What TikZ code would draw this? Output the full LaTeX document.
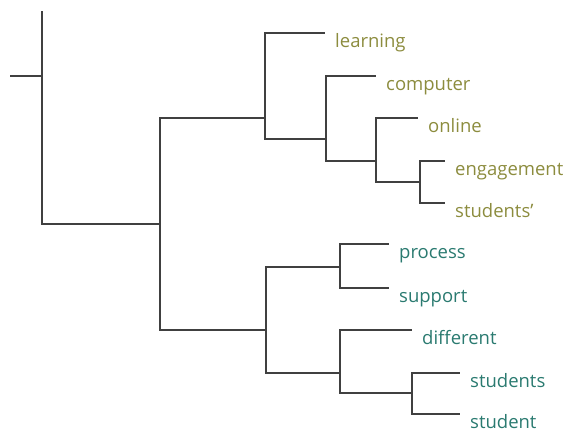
\documentclass[tikz,border=0pt]{standalone}
\usepackage{fontspec}
\setmainfont{Open Sans}
\usepackage{xcolor}
\usetikzlibrary{positioning}
\definecolor{olive}{RGB}{140,140,62}
\definecolor{teal}{RGB}{42,122,112}
\definecolor{twig}{RGB}{64,64,64}

\begin{document}
\begin{tikzpicture}[x=1pt,y=-1pt,
	elbow/.style={to path={|- (\tikztotarget)}},
	wordA/.style={anchor=base west,inner sep=0pt,xshift=10pt,yshift=-14.5pt,text=olive,font=\fontsize{18.5}{20}\selectfont},
	wordB/.style={wordA,text=teal}]
	\useasboundingbox (0,0) rectangle (571,447);
	% junctions
	\coordinate (S) at (10,76);
	\coordinate (T) at (42,11);
	\coordinate (R) at (42,76);
	\coordinate (A) at (160,224);
	\coordinate (B) at (265,118);
	\coordinate (D) at (326,139);
	\coordinate (E) at (376,161);
	\coordinate (F) at (420,182);
	\coordinate (C) at (266,330);
	\coordinate (G) at (340,267);
	\coordinate (H) at (340,373);
	\coordinate (I) at (412,393);
	% leaves
	\coordinate (l1) at (325,33);
	\coordinate (l2) at (376,76);
	\coordinate (l3) at (418,118);
	\coordinate (l4) at (445,161);
	\coordinate (l5) at (445,203);
	\coordinate (l6) at (389,244);
	\coordinate (l7) at (389,288);
	\coordinate (l8) at (412,330);
	\coordinate (l9) at (460,373);
	\coordinate (l10) at (460,414);
	%
	\node[wordA] (learning) at (l1) {learning};
	\node[wordA] (computer) at (l2) {computer};
	\node[wordA] (online) at (l3) {online};
	\node[wordA] (engagement) at (l4) {engagement};
	\node[wordA] (students') at (l5) {students’};
	\node[wordB] (process) at (l6) {process};
	\node[wordB] (support) at (l7) {support};
	\node[wordB] (different) at (l8) {different};
	\node[wordB] (students) at (l9) {students};
	\node[wordB] (student) at (l10) {student};
	%
	\path[draw=twig,line width=2.2pt,line join=miter]
	(S) edge (R)
	(R) edge (T)
		edge[elbow] (A)
	(A) edge[elbow] (B)
		edge[elbow] (C)
	(B) edge[elbow] (l1)
		edge[elbow] (D)
	(D) edge[elbow] (l2)
		edge[elbow] (E)
	(E) edge[elbow] (l3)
		edge[elbow] (F)
	(F) edge[elbow] (l4)
		edge[elbow] (l5)
	(C) edge[elbow] (G)
		edge[elbow] (H)
	(G) edge[elbow] (l6)
		edge[elbow] (l7)
	(H) edge[elbow] (l8)
		edge[elbow] (I)
	(I) edge[elbow] (l9)
		edge[elbow] (l10);
\end{tikzpicture}
\end{document}
